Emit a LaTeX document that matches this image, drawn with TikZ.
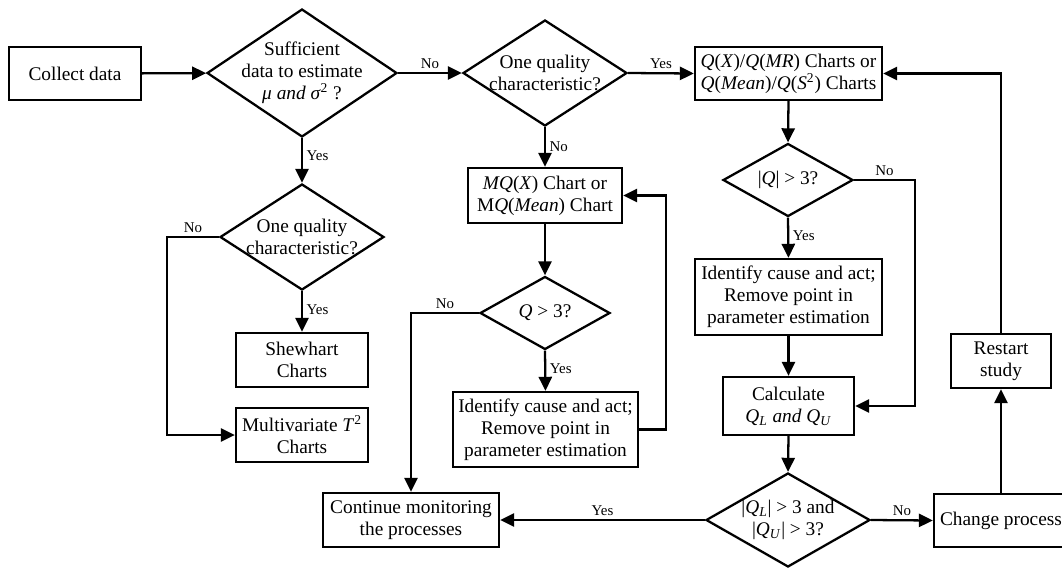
\documentclass[tikz,border=0pt]{standalone}
\usepackage{fontspec}
\setmainfont{Liberation Serif}
\usetikzlibrary{shapes.geometric,arrows.meta}

\begin{document}
\begin{tikzpicture}[line width=1.3pt, >={Triangle[length=8pt,width=7.5pt]},
        box/.style={draw, rectangle, align=center, inner sep=0pt, font=\fontsize{11pt}{12.5pt}\selectfont},
        dec/.style={draw, diamond, inner sep=0pt},
        dtext/.style={label={[align=center, font=\fontsize{11pt}{12.5pt}\selectfont]center:#1}},
        lbl/.style={font=\fontsize{8.5pt}{10pt}\selectfont, inner sep=2pt}]
        \useasboundingbox (0,0) rectangle (21.24,-11.36); % marco
        % cajas
        \node[box, minimum width=2.64cm, minimum height=1.06cm] (collect) at (1.50,-1.47) {Collect data};
        \node[box, minimum width=3.74cm, minimum height=1.06cm] (qchart) at (15.77,-1.47)
            {\textit{Q}(\textit{X})/\textit{Q}(\textit{MR}) Charts or\\\textit{Q}(\textit{Mean})/\textit{Q}(\textit{S}\textsuperscript{2}) Charts};
        \node[box, minimum width=3.08cm, minimum height=1.10cm] (mq) at (10.90,-3.91)
            {\textit{MQ}(\textit{X}) Chart or\\M\textit{Q}(\textit{Mean}) Chart};
        \node[box, minimum width=2.64cm, minimum height=1.08cm] (shew) at (6.04,-7.20) {Shewhart\\Charts};
        \node[box, minimum width=2.64cm, minimum height=1.08cm] (multi) at (6.04,-8.70) {Multivariate \textit{T}\textsuperscript{2}\\Charts};
        \node[box, minimum width=3.70cm, minimum height=1.50cm] (idmid) at (10.91,-8.59)
            {Identify cause and act;\\Remove point in\\parameter estimation};
        \node[box, minimum width=3.52cm, minimum height=1.08cm] (cont) at (8.22,-10.40) {Continue monitoring\\the processes};
        \node[box, minimum width=3.74cm, minimum height=1.52cm] (idright) at (15.77,-5.94)
            {Identify cause and act;\\Remove point in\\parameter estimation};
        \node[box, minimum width=2.62cm, minimum height=1.16cm] (calc) at (15.77,-8.12)
            {Calculate\\\textit{Q}\textsubscript{\textit{L}} \textit{and Q}\textsubscript{\textit{U}}};
        \node[box, minimum width=2.00cm, minimum height=1.08cm] (restart) at (20.02,-7.22) {Restart\\study};
        \node[box, minimum width=2.68cm, minimum height=1.06cm] (change) at (20.02,-10.41) {Change process};
        % rombos
        \node[dec, minimum width=3.80cm, minimum height=2.56cm,
            dtext={Sufficient\\data to estimate\\\textit{μ and σ}\textsuperscript{2} ?}] (suff) at (6.04,-1.46) {};
        \node[dec, minimum width=3.28cm, minimum height=2.12cm,
            dtext={One quality\\characteristic?}] (oneA) at (10.90,-1.46) {};
        \node[dec, minimum width=3.28cm, minimum height=2.12cm,
            dtext={One quality\\characteristic?}] (oneB) at (6.04,-4.74) {};
        \node[dec, minimum width=2.60cm, minimum height=1.46cm,
            dtext={\textit{Q} > 3?}] (qgt) at (10.90,-6.26) {};
        \node[dec, minimum width=2.60cm, minimum height=1.46cm,
            dtext={|\textit{Q}| > 3?}] (absq) at (15.76,-3.60) {};
        \node[dec, minimum width=3.28cm, minimum height=1.88cm,
            dtext={|\textit{Q}\textsubscript{\textit{L}}| > 3 and\\|\textit{Q}\textsubscript{\textit{U}}| > 3?}] (both) at (15.76,-10.40) {};
        % puntos de giro
        \coordinate (turnB) at (3.34,-4.74);
        \coordinate (turnQ) at (8.22,-6.26);
        \coordinate (turnA) at (18.30,-3.60);
        % flechas
        \draw[->] (collect) -- (suff);
        \draw[->] (suff.east) -- node[lbl, above] {No} (oneA.west);
        \draw[->] (oneA.east) -- node[lbl, above] {Yes} (qchart.west);
        \draw[->] (suff.south) -- node[lbl, right, pos=0.4] {Yes} (oneB.north);
        \draw[->] (oneB.south) -- node[lbl, right, pos=0.45] {Yes} (shew.north);
        \draw[->] (oneB.west) -- node[lbl, above] {No} (turnB) |- (multi.west);
        \draw[->] (oneA.south) -- node[lbl, right] {No} (mq.north);
        \draw[->] (mq.south) -- (qgt.north);
        \draw[->] (qgt.south) -- node[lbl, right, pos=0.45] {Yes} (idmid.north);
        \draw[->] (idmid.east) -| (13.32,-3.91) -- (mq.east);
        \draw[->] (qgt.west) -- node[lbl, above] {No} (turnQ) -- (cont.north);
        \draw[->] (qchart.south) -- (absq.north);
        \draw[->] (absq.south) -- node[lbl, right, pos=0.45] {Yes} (idright.north);
        \draw[->] (absq.east) -- node[lbl, above] {No} (turnA) |- (calc.east);
        \draw[->] (idright.south) -- (calc.north);
        \draw[->] (calc.south) -- (both.north);
        \draw[->] (both.west) -- node[lbl, above] {Yes} (cont.east);
        \draw[->] (both.east) -- node[lbl, above] {No} (change.west);
        \draw[->] (change.north) -- (restart.south);
        \draw[->] (restart.north) |- (qchart.east);
\end{tikzpicture}
\end{document}
